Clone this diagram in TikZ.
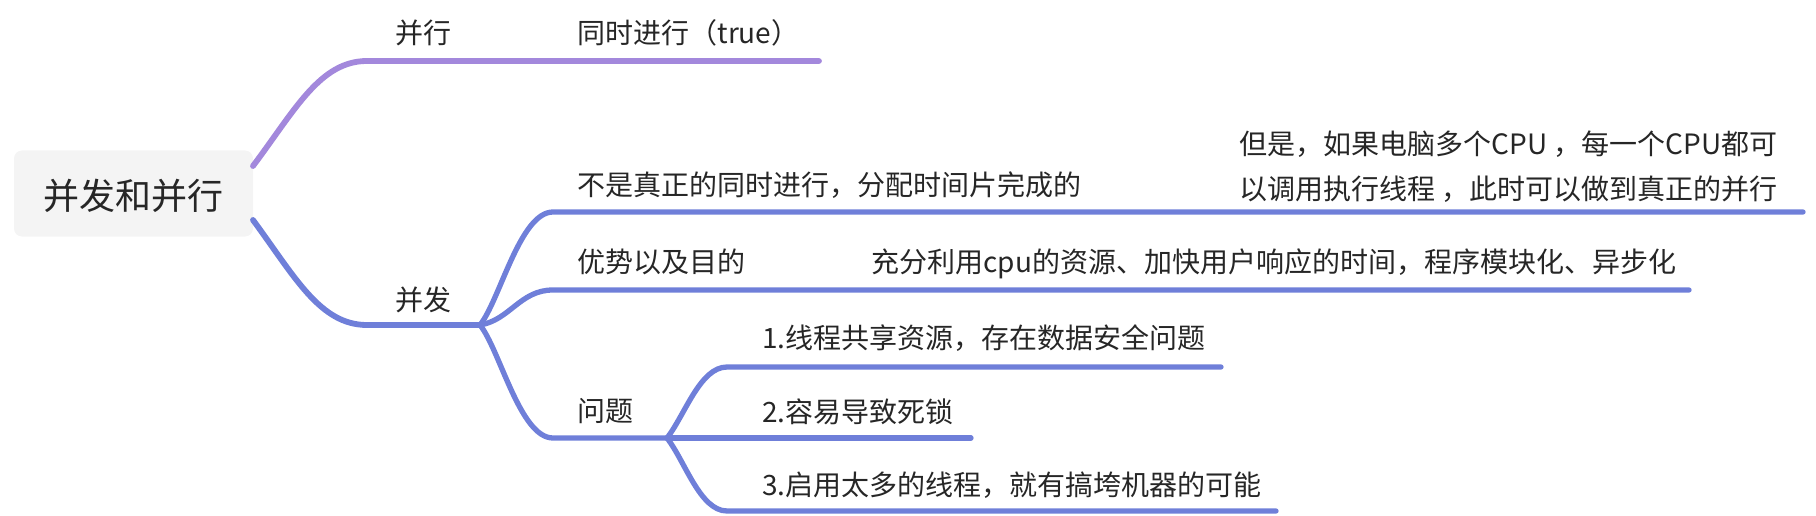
\documentclass[tikz,border=0pt]{standalone}
\usepackage{fontspec}
\setmainfont{Noto Sans CJK SC}
\definecolor{purp}{HTML}{A388DC}
\definecolor{blu}{HTML}{6F7FD9}
\definecolor{txt}{HTML}{262626}
\definecolor{rootfill}{HTML}{F4F4F4}
\tikzset{
  lbl/.style={anchor=base west, inner sep=0pt, outer sep=0pt, text=txt, font=\fontsize{28}{45}\selectfont},
  rootbox/.style={rectangle, rounded corners=8pt, fill=rootfill, draw=none, inner sep=0pt, outer sep=0pt,
    minimum width=239pt, minimum height=86pt, text height=35pt, text depth=3pt, text=txt,
    font=\fontsize{36}{43}\selectfont},
  brone/.style={line width=5.8pt, line cap=round, line join=round},
  brtwo/.style={line width=5.3pt, line cap=round, line join=round},
}
\begin{document}
\begin{tikzpicture}[x=1pt,y=-1pt]
\useasboundingbox (0,0) rectangle (1816,516);
% root
\node[rootbox] (root) at (133.5,193.5) {并发和并行};
% junction coordinates
\coordinate (pllL) at (367,61);  \coordinate (pllR) at (819,61);
\coordinate (ccL) at (367,325);  \coordinate (ccR) at (480,325);
\coordinate (cAL) at (553,212);  \coordinate (cAR) at (1803,212);
\coordinate (cBL) at (553,290);  \coordinate (cBR) at (1689,290);
\coordinate (cCL) at (553,438);  \coordinate (cCR) at (667,438);
\coordinate (pAL) at (727,367);  \coordinate (pAR) at (1221,367);
\coordinate (pBR) at (971,438);
\coordinate (pCL) at (727,511);  \coordinate (pCR) at (1276,511);
% connectors
\draw[brone,purp] ([yshift=27.5pt]root.east) .. controls (295,110) and (320,61) .. (pllL) -- (pllR);
\draw[brone,blu] ([yshift=-26.5pt]root.east) .. controls (295,277) and (320,325) .. (ccL) -- (ccR);
\draw[brtwo,blu] (ccR) .. controls (500,300) and (520,212) .. (cAL) -- (cAR);
\draw[brtwo,blu] (ccR) .. controls (510,320) and (520,290) .. (cBL) -- (cBR);
\draw[brtwo,blu] (ccR) .. controls (500,350) and (520,438) .. (cCL) -- (cCR);
\draw[brtwo,blu] (cCR) .. controls (685,415) and (700,367) .. (pAL) -- (pAR);
\draw[brtwo,blu] (cCR) -- (pBR);
\draw[brtwo,blu] (cCR) .. controls (685,461) and (700,511) .. (pCL) -- (pCR);
% labels
\node[lbl] (pll) at (395.5,44) {并行};
\node[lbl] (pllt) at (577.5,44) {同时进行（true）};
\node[lbl] (cc) at (395.5,310) {并发};
\node[lbl] (cA) at (577.5,195) {不是真正的同时进行，分配时间片完成的};
\node[lbl] (cAb) at (1239.5,155) {\begin{tabular}[t]{@{}l@{}}但是，如果电脑多个CPU ，每一个CPU都可\\以调用执行线程 ，此时可以做到真正的并行\end{tabular}};
\node[lbl] (cB) at (577.5,272) {优势以及目的};
\node[lbl] (cBb) at (871.5,272) {充分利用cpu的资源、加快用户响应的时间，程序模块化、异步化};
\node[lbl] (cC) at (577.5,421) {问题};
\node[lbl] (pA) at (762,348) {1.线程共享资源，存在数据安全问题};
\node[lbl] (pB) at (762,422) {2.容易导致死锁};
\node[lbl] (pC) at (762,495) {3.启用太多的线程，就有搞垮机器的可能};
\end{tikzpicture}
\end{document}
